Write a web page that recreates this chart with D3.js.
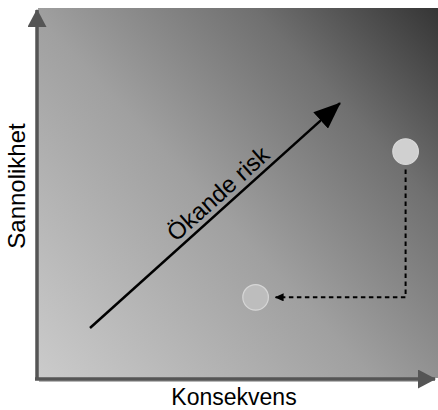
<!DOCTYPE html>
<html>
<head>
<meta charset="utf-8">
<script src="https://cdn.jsdelivr.net/npm/d3@7"></script>
<style>
  body { margin: 0; background: #fff; }
  svg { display: block; }
</style>
</head>
<body>
<div id="chart"></div>
<script>
// labels
const xLabel = "Konsekvens";
const yLabel = "Sannolikhet";
const riskLabel = "Ökande risk";

// risk arrow, in 0..1 units of the panel
const riskStart = [0.13, 0.135];
const riskEnd = [0.755, 0.743];

// risk before and after mitigation
const riskPoints = [
    { name: "före", x: 0.919, y: 0.612 },
    { name: "efter", x: 0.544, y: 0.218 }
];

const W = 438, H = 410;
const margins = { top: 8, right: 0, bottom: 32, left: 38 };

const svg = d3.select("#chart")
    .append("svg")
    .attr("width", W)
    .attr("height", H);

const x = d3.scaleLinear().domain([0, 1]).range([margins.left, W - margins.right]);
const y = d3.scaleLinear().domain([0, 1]).range([H - margins.bottom, margins.top]);

const defs = svg.append("defs");

//background gradient, light bottom left, dark top right
const grad = defs.append("linearGradient")
    .attr("id", "bg")
    .attr("gradientUnits", "userSpaceOnUse")
    .attr("x1", x(0)).attr("y1", y(0))
    .attr("x2", x(1)).attr("y2", y(1));
grad.append("stop").attr("offset", "0%").attr("stop-color", "#cbcbcb");
grad.append("stop").attr("offset", "45%").attr("stop-color", "#a0a0a0");
grad.append("stop").attr("offset", "75%").attr("stop-color", "#707070");
grad.append("stop").attr("offset", "100%").attr("stop-color", "#353535");

//arrow heads
const addMarker = (id, color, w, h) => {
    defs.append("marker")
        .attr("id", id)
        .attr("viewBox", `0 0 ${w} ${h}`)
        .attr("refX", w - 1)
        .attr("refY", h / 2)
        .attr("markerUnits", "userSpaceOnUse")
        .attr("markerWidth", w)
        .attr("markerHeight", h)
        .attr("orient", "auto")
        .append("path")
        .attr("d", `M0,0L${w},${h / 2}L0,${h}Z`)
        .attr("fill", color);
};
addMarker("riskHead", "#000", 27, 22);
addMarker("dashHead", "#000", 9, 8);
addMarker("axisHead", "#555", 18, 19);

svg.append("rect")
    .attr("x", x(0))
    .attr("y", y(1))
    .attr("width", x(1) - x(0))
    .attr("height", y(0) - y(1))
    .attr("fill", "url(#bg)");

//axes with a faint shadow
const axes = svg.append("g");
axes.append("path")
    .attr("d", `M${x(0) + 1},${y(0) + 3}H${W - 14}`)
    .attr("stroke", "#a0a0a0")
    .attr("stroke-width", 1.5)
    .attr("fill", "none");
axes.append("path")
    .attr("d", `M${x(0) - 1},${y(0) + 2}V${y(1) + 2}`)
    .attr("stroke", "#555")
    .attr("stroke-width", 3.5)
    .attr("marker-end", "url(#axisHead)");
axes.append("path")
    .attr("d", `M${x(0) - 3},${y(0) + 1}H${W - 3}`)
    .attr("stroke", "#555")
    .attr("stroke-width", 3.5)
    .attr("marker-end", "url(#axisHead)");

//risk arrow
svg.append("line")
    .attr("x1", x(riskStart[0])).attr("y1", y(riskStart[1]))
    .attr("x2", x(riskEnd[0])).attr("y2", y(riskEnd[1]))
    .attr("stroke", "#000")
    .attr("stroke-width", 2.5)
    .attr("marker-end", "url(#riskHead)");

const dx = x(riskEnd[0]) - x(riskStart[0]);
const dy = y(riskEnd[1]) - y(riskStart[1]);
const angle = Math.atan2(dy, dx) * 180 / Math.PI;
const midX = (x(riskStart[0]) + x(riskEnd[0])) / 2;
const midY = (y(riskStart[1]) + y(riskEnd[1])) / 2;

svg.append("text")
    .attr("transform", `translate(${midX},${midY}) rotate(${angle}) translate(17,-6)`)
    .attr("text-anchor", "middle")
    .style("font-family", "Liberation Sans, Arial, sans-serif")
    .style("font-size", "24px")
    .text(riskLabel);

//dashed path from before to after
const before = riskPoints[0], after = riskPoints[1];
svg.append("path")
    .attr("d", `M${x(before.x)},${y(before.y) + 18}V${y(after.y)}H${x(after.x) + 20}`)
    .attr("fill", "none")
    .attr("stroke", "#000")
    .attr("stroke-width", 2)
    .attr("stroke-dasharray", "4.5,3.5")
    .attr("marker-end", "url(#dashHead)");

svg.append("g")
    .selectAll("circle")
    .data(riskPoints)
    .enter()
    .append("circle")
    .attr("cx", d => x(d.x))
    .attr("cy", d => y(d.y))
    .attr("r", 12.8)
    .attr("fill", (d, i) => i === 0 ? "#d0d0d0" : "#bdbdbd")
    .attr("stroke", (d, i) => i === 0 ? "#d8d8d8" : "#d6d6d6")
    .attr("stroke-width", 1.2);

//axis labels
svg.append("text")
    .attr("x", 234)
    .attr("y", 405)
    .attr("text-anchor", "middle")
    .style("font-family", "Liberation Sans, Arial, sans-serif")
    .style("font-size", "23px")
    .text(xLabel);

svg.append("text")
    .attr("transform", "rotate(-90)")
    .attr("x", -186)
    .attr("y", 25)
    .attr("text-anchor", "middle")
    .style("font-family", "Liberation Sans, Arial, sans-serif")
    .style("font-size", "24px")
    .text(yLabel);
</script>
</body>
</html>
